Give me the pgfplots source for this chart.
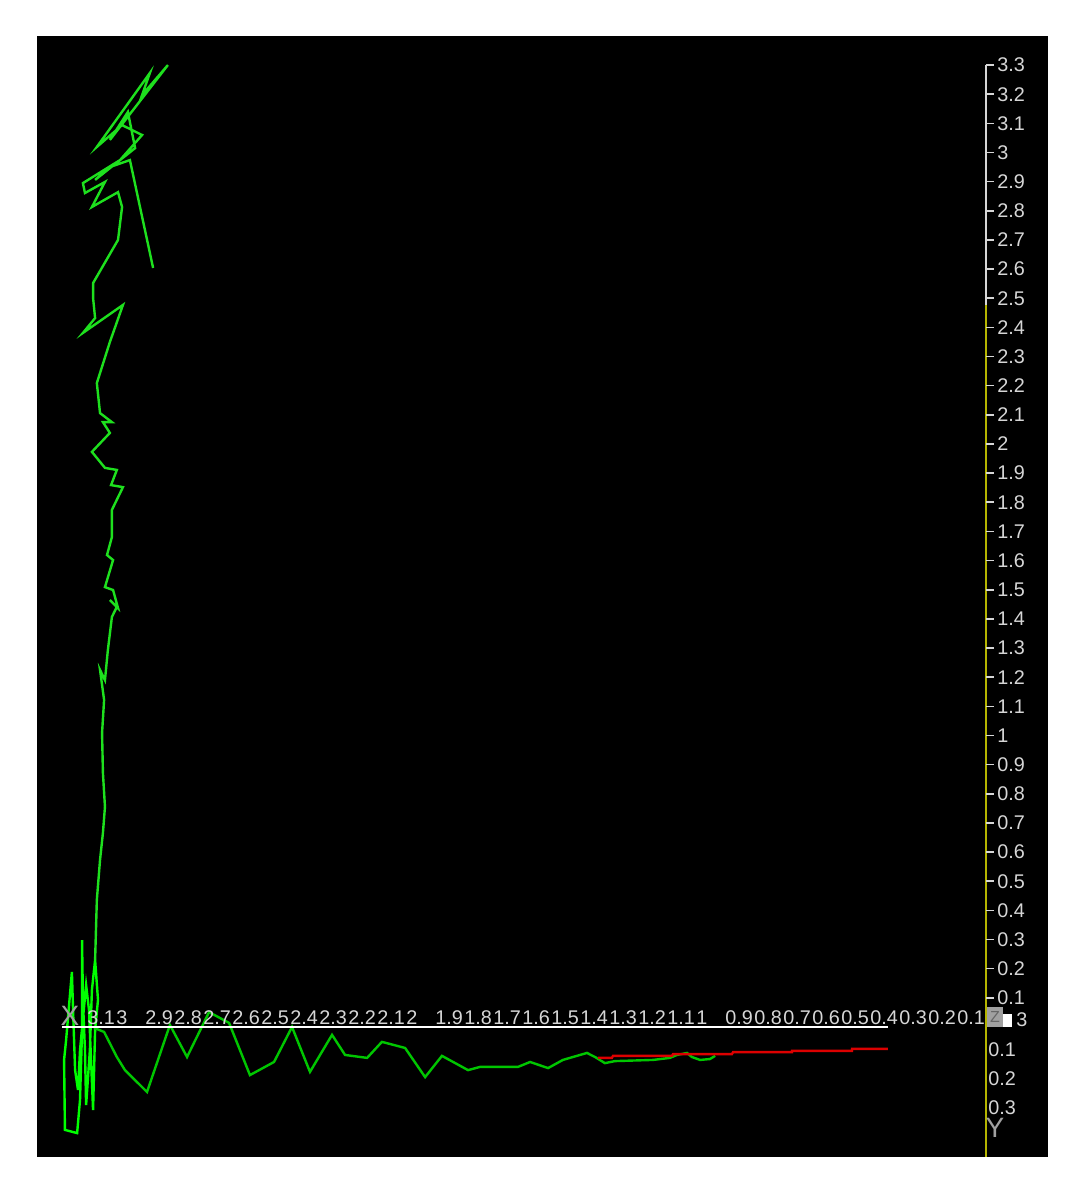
\documentclass[border=0pt]{standalone}
\usepackage{fontspec}
\setmainfont{Liberation Sans}
\usepackage{pgfplots}
\pgfplotsset{compat=1.18}
\definecolor{verd}{HTML}{1EE01E}
\definecolor{verdclar}{HTML}{00FF00}
\definecolor{verdfosc}{HTML}{00C600}
\definecolor{vermell}{HTML}{DC0000}
\definecolor{groc}{HTML}{B4B400}
\definecolor{etiq}{HTML}{D6D6D6}
\definecolor{gris}{HTML}{A0A0A0}

\begin{document}
\begin{tikzpicture}[
  lab/.style={font=\fontsize{9.9}{11}\selectfont, text=etiq, inner sep=0pt},
]
\fill[white] (0,0) rectangle (539pt,594pt);
\begin{axis}[
  at={(18.5pt,15.5pt)}, anchor=south west,
  scale only axis, width=505.5pt, height=560.5pt,
  x dir=reverse,
  xmin=-0.2138, xmax=3.2724, ymin=-0.446, ymax=3.3997,
  axis background/.style={fill=black},
  axis line style={draw=none},
  xtick=\empty, ytick=\empty,
  clip=false,
]
  % main trace, bottom cluster
  \addplot[verdclar, line width=1.2pt] coordinates {
    (3.072,0.230) (3.083,0.127) (3.090,-0.079) (3.097,-0.182) (3.103,-0.268)
    (3.107,-0.079) (3.114,0.093) (3.117,0.298) (3.117,-0.010) (3.124,-0.250)
    (3.134,-0.364) (3.176,-0.353) (3.179,-0.113) (3.172,-0.045) (3.152,0.189)
    (3.148,0.058) (3.141,-0.148) (3.131,-0.216) (3.124,-0.079) (3.103,0.144)
    (3.093,0.058) (3.086,-0.113) (3.079,-0.285) (3.072,-0.010) (3.062,0.093)
    (3.072,0.230)
  };
  % main trace, going up
  \addplot[verd, line width=1.2pt] coordinates {
    (3.072,0.230) (3.066,0.436) (3.055,0.573) (3.045,0.666) (3.038,0.755)
    (3.045,0.871) (3.048,1.009) (3.041,1.122) (3.055,1.225) (3.038,1.190)
    (3.028,1.293) (3.014,1.407) (2.997,1.441) (3.021,1.465) (2.993,1.437)
    (3.010,1.499) (3.038,1.509) (3.010,1.602) (3.031,1.619) (3.014,1.681)
    (3.014,1.774) (2.976,1.852) (3.017,1.859) (2.997,1.911) (3.038,1.918)
    (3.083,1.973) (3.021,2.038) (3.045,2.075) (3.014,2.075) (3.055,2.106)
    (3.066,2.209) (3.021,2.350) (2.976,2.477) (3.114,2.381) (3.072,2.432)
    (3.079,2.501) (3.079,2.552) (2.993,2.700) (2.979,2.813) (2.993,2.864)
    (3.083,2.813) (3.038,2.899) (3.107,2.861) (3.114,2.895) (2.986,2.974)
    (2.910,3.060) (2.979,3.094) (3.066,3.019) (2.883,3.273) (2.910,3.197)
    (2.821,3.300) (3.021,3.043) (2.959,3.139) (2.934,3.015) (3.072,2.906)
    (3.021,2.950) (2.952,2.974) (2.872,2.604)
  };
  % lower trace
  \addplot[verdfosc, line width=1.2pt] coordinates {
    (3.076,-0.003) (3.041,-0.017) (2.997,-0.103) (2.969,-0.148) (2.893,-0.223)
    (2.814,0.007) (2.755,-0.103) (2.679,0.051) (2.610,0.014) (2.538,-0.165)
    (2.455,-0.120) (2.393,0) (2.331,-0.154) (2.255,-0.027) (2.210,-0.096)
    (2.134,-0.106) (2.083,-0.051) (2.003,-0.072) (1.934,-0.172) (1.876,-0.099)
    (1.786,-0.148) (1.745,-0.137) (1.614,-0.137) (1.572,-0.120) (1.510,-0.141)
    (1.459,-0.113) (1.376,-0.089) (1.348,-0.103) (1.314,-0.124) (1.279,-0.117)
    (1.148,-0.113) (1.090,-0.106) (1.066,-0.096) (1.031,-0.089) (1.014,-0.103)
    (0.986,-0.113) (0.952,-0.110) (0.934,-0.099)
  };
  % red trace
  \addplot[vermell, line width=1.2pt] coordinates {
    (1.338,-0.106) (1.290,-0.106) (1.286,-0.099) (1.083,-0.099) (1.079,-0.093)
    (0.876,-0.093) (0.872,-0.086) (0.669,-0.086) (0.669,-0.082) (0.462,-0.082)
    (0.462,-0.075) (0.338,-0.075)
  };

  % axes
  \draw[white, line width=0.9pt] (axis cs:3.186,0) -- (axis cs:0.338,0);
  \draw[etiq, line width=1pt] (axis cs:0,3.3) -- (axis cs:0,2.477);
  \draw[groc, line width=1pt] (axis cs:0,2.477) -- (axis cs:0,-0.446);

  \pgfplotsinvokeforeach{3.1,3,2.9,2.8,2.7,2.6,2.5,2.4,2.3,2.2,2.1,2,1.9,1.8,1.7,1.6,1.5,1.4,1.3,1.2,1.1,1,0.9,0.8,0.7,0.6,0.5,0.4,0.3,0.2,0.1}{
    \node[lab, anchor=south west, yshift=1pt] at (axis cs:#1,0) {#1};
  }
  \pgfplotsinvokeforeach{0.1,0.2,0.3,0.4,0.5,0.6,0.7,0.8,0.9,1,1.1,1.2,1.3,1.4,1.5,1.6,1.7,1.8,1.9,2,2.1,2.2,2.3,2.4,2.5,2.6,2.7,2.8,2.9,3,3.1,3.2,3.3}{
    \draw[etiq, line width=0.8pt] (axis cs:0,#1) -- ([xshift=4pt]axis cs:0,#1);
    \node[lab, anchor=west, xshift=5.5pt] at (axis cs:0,#1) {#1};
  }
  \node[lab, anchor=west, xshift=1pt] at (axis cs:0,-0.079) {0.1};
  \node[lab, anchor=west, xshift=1pt] at (axis cs:0,-0.178) {0.2};
  \node[lab, anchor=west, xshift=1pt] at (axis cs:0,-0.278) {0.3};

  % axis letters
  \fill[gris] (axis cs:-0.003,0) rectangle (axis cs:-0.059,0.069);
  \fill[white] (axis cs:-0.059,0) rectangle (axis cs:-0.090,0.045);
  \node[lab, anchor=south west, xshift=0.5pt] at (axis cs:-0.100,0) {3};
  \node[font=\fontsize{8}{8}\selectfont, text=black!60, inner sep=0pt] at (axis cs:-0.031,0.035) {Z};
  \node[font=\fontsize{14}{14}\selectfont, text=gris, inner sep=0pt] at (axis cs:3.159,0.038) {X};
  \node[font=\fontsize{14}{14}\selectfont, text=gris, inner sep=0pt] at (axis cs:-0.031,-0.345) {Y};
\end{axis}
\end{tikzpicture}
\end{document}
